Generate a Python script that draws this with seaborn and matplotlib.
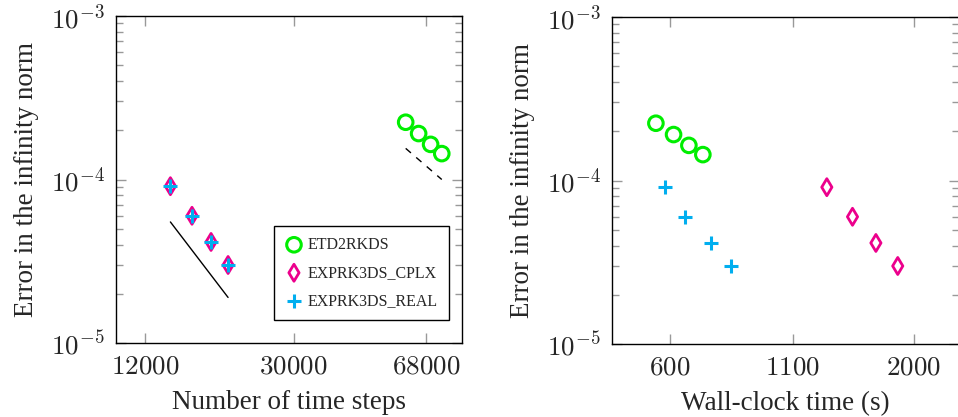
import matplotlib
matplotlib.use("Agg")
import matplotlib.pyplot as plt
import matplotlib.ticker as mticker
import seaborn as sns

# Nombre de pas de temps
pas_etd = [60000, 65000, 70000, 75000]
pas_exp = [14000, 16000, 18000, 20000]

# Erreur en norme infinie
err_etd = [2.24e-4, 1.91e-4, 1.64e-4, 1.44e-4]
err_cplx = [9.1e-5, 6.0e-5, 4.15e-5, 3.0e-5]
err_real = [9.1e-5, 6.0e-5, 4.15e-5, 3.0e-5]

# Temps de calcul (s)
temps_etd = [559, 610, 658, 705]
temps_cplx = [1301, 1477, 1658, 1847]
temps_real = [586, 647, 733, 809]

# Droites de pente (ordre 3 et ordre 2)
pente3_x = [14000, 20000]
pente3_y = [5.5e-5, 1.9e-5]
pente2_x = [60000, 75000]
pente2_y = [1.55e-4, 1.0e-4]

ticks_pas = [12000, 30000, 68000]
ticks_temps = [600, 1100, 2000]
ticks_err = [1e-5, 1e-4, 1e-3]
labels_err = [r"$10^{-5}$", r"$10^{-4}$", r"$10^{-3}$"]

noms = ["ETD2RKDS", "EXPRK3DS_CPLX", "EXPRK3DS_REAL"]
vert = "#00ee00"
magenta = "#ec008c"
cyan = "#00aeef"

sns.set_style("ticks")
plt.rcParams["font.family"] = ["Liberation Serif", "DejaVu Serif"]
plt.rcParams["mathtext.fontset"] = "cm"

fig = plt.figure(figsize=(9.58, 4.17), dpi=100)
ax1 = fig.add_axes([116 / 958, 1 - 343 / 417, 346 / 958, 327 / 417])
ax2 = fig.add_axes([612 / 958, 1 - 344 / 417, 347 / 958, 327 / 417])


def nuage(ax, x, y, nom, show_label=True):
    lab = nom if show_label else None
    if nom == noms[0]:
        sns.scatterplot(x=x, y=y, ax=ax, marker="o", s=110, color=vert,
                        facecolor="none", edgecolor=vert, linewidth=2.2,
                        label=lab, zorder=3)
    elif nom == noms[1]:
        sns.scatterplot(x=x, y=y, ax=ax, marker="d", s=75, color=magenta,
                        facecolor="none", edgecolor=magenta, linewidth=2.0,
                        label=lab, zorder=3)
    else:
        sns.scatterplot(x=x, y=y, ax=ax, marker="+", s=100, color=cyan,
                        edgecolor=cyan, linewidth=2.2, label=lab, zorder=4)


# Panneau de gauche : erreur / nombre de pas
nuage(ax1, pas_etd, err_etd, noms[0])
nuage(ax1, pas_exp, err_cplx, noms[1])
nuage(ax1, pas_exp, err_real, noms[2])
sns.lineplot(x=pente3_x, y=pente3_y, ax=ax1, color="black", linewidth=1.0)
sns.lineplot(x=pente2_x, y=pente2_y, ax=ax1, color="black", linewidth=1.0,
             linestyle=(0, (5, 5)))

# Panneau de droite : erreur / temps
nuage(ax2, temps_etd, err_etd, noms[0], False)
nuage(ax2, temps_cplx, err_cplx, noms[1], False)
nuage(ax2, temps_real, err_real, noms[2], False)

for ax, xt, xlim, xlab in [(ax1, ticks_pas, (10000, 85000), "Number of time steps"),
                           (ax2, ticks_temps, (450, 2500), "Wall-clock time (s)")]:
    ax.set_xscale("log")
    ax.set_yscale("log")
    ax.set_xlim(*xlim)
    ax.set_ylim(1e-5, 1e-3)
    ax.set_xticks(xt)
    ax.set_xticklabels([r"$%d$" % v for v in xt])
    ax.xaxis.set_minor_locator(mticker.NullLocator())
    ax.set_yticks(ticks_err)
    ax.set_yticklabels(labels_err)
    ax.yaxis.set_minor_locator(mticker.LogLocator(base=10, subs=range(2, 10)))
    ax.yaxis.set_minor_formatter(mticker.NullFormatter())
    ax.tick_params(which="both", direction="in", top=True, right=True,
                   color="#999999", labelsize=19.5, width=1.0)
    ax.tick_params(which="major", length=7, pad=8)
    ax.tick_params(which="minor", length=5)
    for sp in ax.spines.values():
        sp.set_linewidth(1.0)
        sp.set_color("black")
    ax.set_xlabel(xlab, fontsize=19.5, labelpad=8)
    ax.set_ylabel("Error in the infinity norm", fontsize=19.5, labelpad=9)

leg = ax1.legend(loc="lower right", bbox_to_anchor=(0.962, 0.070), fontsize=11.5,
                 frameon=True, fancybox=False, framealpha=1, edgecolor="black",
                 handletextpad=0.3, borderpad=0.7, labelspacing=0.75,
                 handlelength=1.1, borderaxespad=0)
leg.get_frame().set_linewidth(1.0)

fig.savefig("out.png", dpi=100)
